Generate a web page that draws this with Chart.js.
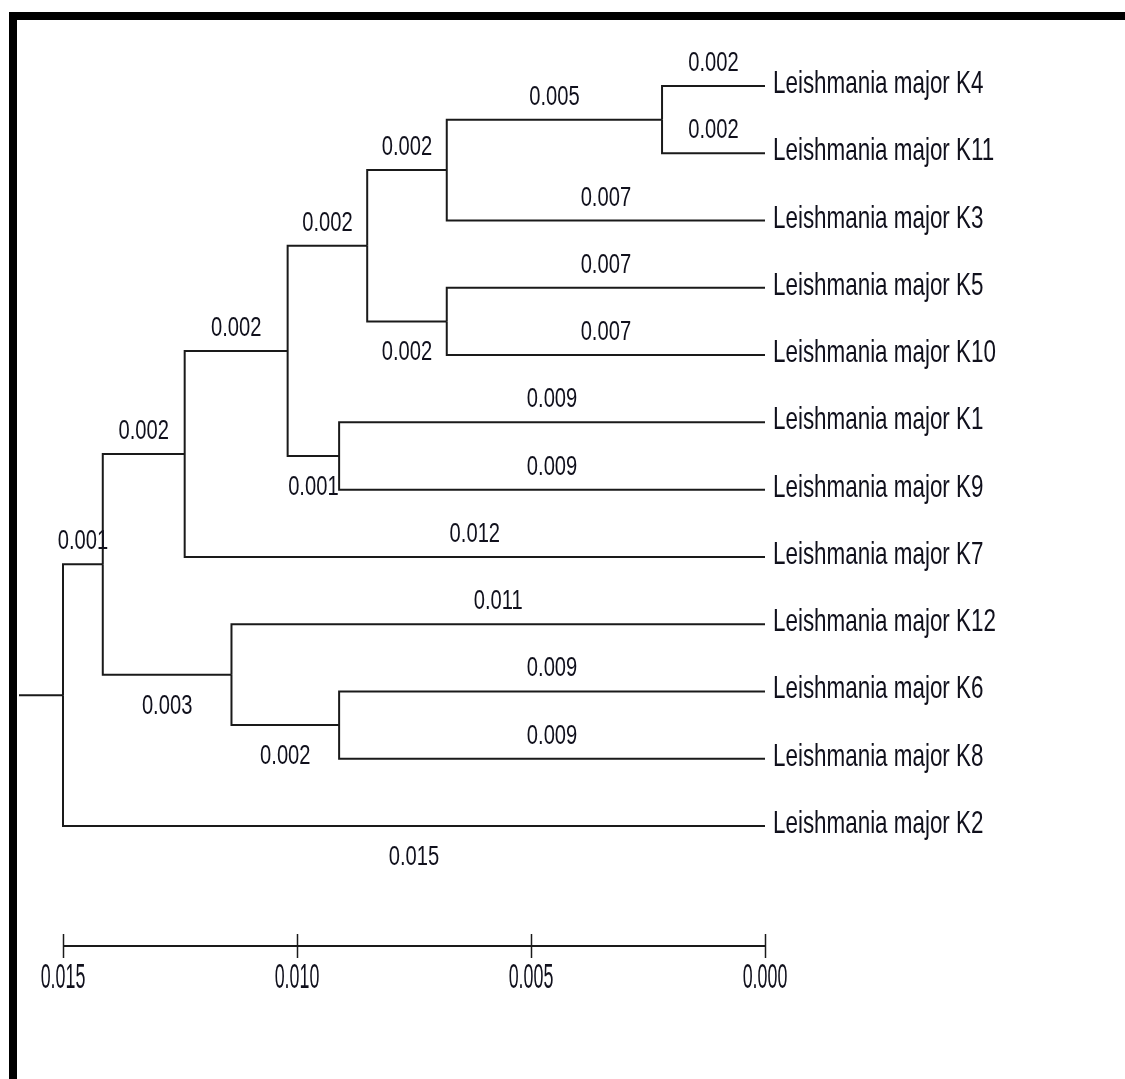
<!DOCTYPE html>
<html>
<head>
<meta charset="utf-8">
<script src="https://cdn.jsdelivr.net/npm/chart.js@4"></script>
<style>
  html, body { margin: 0; padding: 0; background: #fff; }
  #wrap { position: relative; width: 1125px; height: 1079px; overflow: hidden; }
  #tree { position: absolute; left: 0; top: 0; }
  .frame { position: absolute; left: 9px; top: 12px; right: 0; bottom: 0;
           border-left: 8px solid #000; border-top: 8px solid #000; pointer-events: none; }
</style>
</head>
<body>
<div id="wrap">
  <canvas id="tree" width="1125" height="1079"></canvas>
  <div class="frame"></div>
</div>
<script>
// leaves, top to bottom
const leaves = [
  'Leishmania major K4', 'Leishmania major K11', 'Leishmania major K3',
  'Leishmania major K5', 'Leishmania major K10', 'Leishmania major K1',
  'Leishmania major K9', 'Leishmania major K7', 'Leishmania major K12',
  'Leishmania major K6', 'Leishmania major K8', 'Leishmania major K2'
];

// merges (UPGMA style): leaf i has id i, merge k has id leaves.length + k
const mergeUpper  = [0, 12, 3, 13, 5, 15, 17, 9, 8, 18, 21];
const mergeLower  = [1, 2, 4, 14, 6, 16, 7, 10, 19, 20, 11];
const mergeHeight = [0.0022, 0.0068, 0.0068, 0.0085, 0.0091, 0.0102, 0.0124, 0.0091, 0.0114, 0.01415, 0.0150];
// where the branch length of the lower child is written
const lowerLabelSide = ['above', 'above', 'above', 'below', 'above', 'below', 'above', 'above', 'below', 'below', 'below'];

const rootStub = 0.00094;
const scaleTicks = [0.015, 0.010, 0.005, 0.000];
const scaleTickLabels = ['0.015', '0.010', '0.005', '0.000'];

// node heights and rows
const nLeaf = leaves.length;
const height = [];
const row = [];
leaves.forEach((l, i) => { height[i] = 0; row[i] = i; });
mergeHeight.forEach((h, k) => {
  const id = nLeaf + k;
  height[id] = h;
  row[id] = (row[mergeUpper[k]] + row[mergeLower[k]]) / 2;
});
const rootId = nLeaf + mergeHeight.length - 1;

// one dataset per branch (elbow)
const branches = [];
mergeHeight.forEach((h, k) => {
  const p = nLeaf + k;
  [[mergeUpper[k], 'above'], [mergeLower[k], lowerLabelSide[k]]].forEach(([c, side]) => {
    branches.push({ parent: p, child: c, side: side });
  });
});

const lineStyle = {
  showLine: true, pointRadius: 0, borderColor: '#1a1a1a', borderWidth: 2,
  fill: false, tension: 0, clip: false, borderJoinStyle: 'miter'
};

const datasets = branches.map(b => Object.assign({
  data: [
    { x: height[b.parent], y: row[b.parent] },
    { x: height[b.parent], y: row[b.child] },
    { x: height[b.child], y: row[b.child] }
  ]
}, lineStyle));
datasets.push(Object.assign({
  data: [
    { x: height[rootId] + rootStub, y: row[rootId] },
    { x: height[rootId], y: row[rootId] }
  ]
}, lineStyle));

function squeezeText(ctx, text, x, y, size, sx, align) {
  ctx.save();
  ctx.translate(x, y);
  ctx.scale(sx, 1);
  ctx.font = size + 'px "Liberation Sans", Arial, sans-serif';
  ctx.textAlign = align;
  ctx.textBaseline = 'alphabetic';
  ctx.fillStyle = '#10101c';
  ctx.fillText(text, 0, 0);
  ctx.restore();
}

const treeLabels = {
  id: 'treeLabels',
  afterDatasetsDraw(chart) {
    const ctx = chart.ctx;
    const xs = chart.scales.x, ys = chart.scales.y;

    // leaf names
    leaves.forEach((name, i) => {
      squeezeText(ctx, name, xs.getPixelForValue(0) + 8, ys.getPixelForValue(i) + 7, 32, 0.70, 'left');
    });

    // branch lengths
    branches.forEach(b => {
      const len = (height[b.parent] - height[b.child]).toFixed(3);
      const x = (xs.getPixelForValue(height[b.parent]) + xs.getPixelForValue(height[b.child])) / 2;
      const yl = ys.getPixelForValue(row[b.child]);
      const y = b.side === 'above' ? yl - 15 : yl + 39;
      squeezeText(ctx, len, x, y, 28, 0.72, 'center');
    });

    // scale bar
    const yb = ys.getPixelForValue(nLeaf - 1) + 120;
    ctx.save();
    ctx.strokeStyle = '#1a1a1a';
    ctx.lineWidth = 2;
    ctx.beginPath();
    ctx.moveTo(xs.getPixelForValue(scaleTicks[0]), yb);
    ctx.lineTo(xs.getPixelForValue(scaleTicks[scaleTicks.length - 1]), yb);
    ctx.stroke();
    ctx.lineWidth = 1.5;
    scaleTicks.forEach(t => {
      const x = Math.round(xs.getPixelForValue(t)) + 0.5;
      ctx.beginPath();
      ctx.moveTo(x, yb - 12);
      ctx.lineTo(x, yb + 12);
      ctx.stroke();
    });
    ctx.restore();
    scaleTicks.forEach((t, i) => {
      squeezeText(ctx, scaleTickLabels[i], xs.getPixelForValue(t), yb + 42, 35, 0.51, 'center');
    });
  }
};

const config = {
  type: 'scatter',
  data: { datasets: datasets },
  options: {
    responsive: false,
    animation: false,
    devicePixelRatio: 1,
    events: [],
    layout: { padding: { left: 63, right: 360, top: 86, bottom: 253 } },
    plugins: { legend: { display: false }, tooltip: { enabled: false } },
    scales: {
      x: { type: 'linear', min: 0, max: 0.015, reverse: true, display: false },
      y: { type: 'linear', min: 0, max: nLeaf - 1, reverse: true, display: false }
    }
  },
  plugins: [treeLabels]
};

const treeChart = new Chart(document.getElementById('tree'), config);
</script>
</body>
</html>
